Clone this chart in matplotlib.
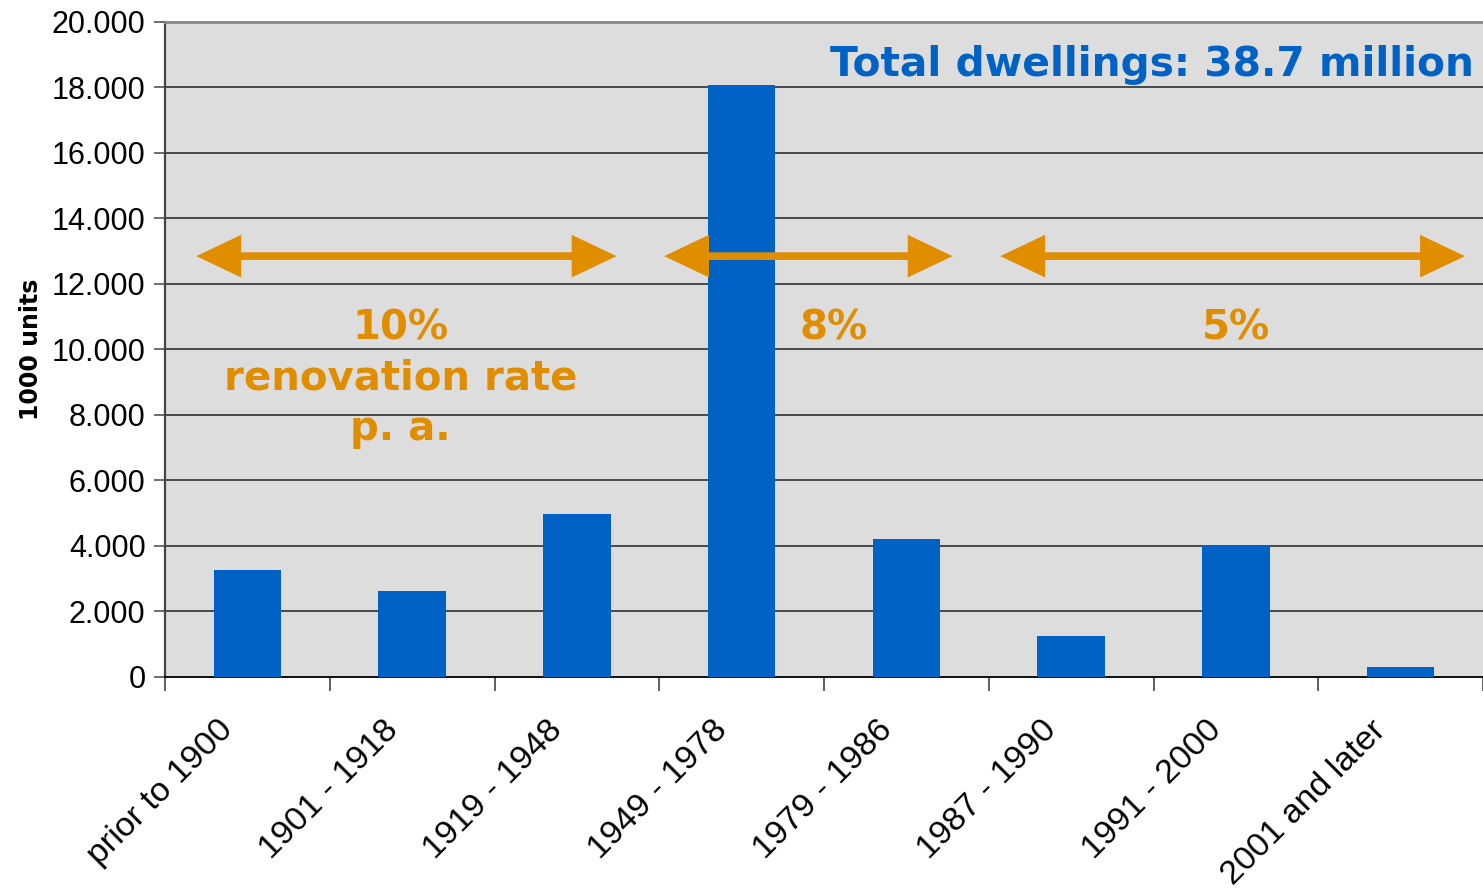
import matplotlib
matplotlib.use("Agg")
import matplotlib.pyplot as plt
import matplotlib.transforms as mtransforms
import numpy as np

# dwellings by construction period, in 1000 units
periods = ["prior to 1900", "1901 - 1918", "1919 - 1948", "1949 - 1978",
           "1979 - 1986", "1987 - 1990", "1991 - 2000", "2001 and later"]
dwellings = [3270, 2630, 4980, 18080, 4210, 1250, 4030, 310]

# renovation-rate bands: (start, end) in category units, label
band_start = [-0.31, 2.53, 4.57]
band_end = [2.24, 4.28, 7.39]
band_rate = ["10%", "8%", "5%"]
band_label_x = [0.93, 3.56, 6.00]
band_y = 12850

blue = "#0062C4"
orange = "#E08E00"

fig = plt.figure(figsize=(14.83, 8.93), dpi=100)
ax = fig.add_axes([0.1113, 0.2419, 0.8887, 0.7335])
ax.set_facecolor("#DDDDDD")

x = np.arange(len(periods))
ax.bar(x, dwellings, width=0.41, color=blue, zorder=3)

ax.set_xlim(-0.5, len(periods) - 0.5)
ax.set_ylim(0, 20000)
yt = np.arange(0, 20001, 2000)
ax.set_yticks(yt)
ax.set_yticklabels([f"{v:,}".replace(",", ".") for v in yt],
                   fontsize=22, family="Liberation Sans")
ax.yaxis.grid(True, color="#222222", lw=1.1, zorder=1)
ax.set_axisbelow(True)
ax.tick_params(axis="y", length=8, width=1.2, color="#555555", pad=6)

ax.set_xticks(x)
ax.set_xticklabels(periods, rotation=45, ha="right", va="top",
                   rotation_mode="anchor", fontsize=24.5, family="Liberation Sans")
ax.tick_params(axis="x", which="major", length=0, pad=27)
ax.set_xticks(np.arange(-0.5, len(periods)), minor=True)
ax.tick_params(axis="x", which="minor", length=10, width=1.2, color="#444444")
shift = mtransforms.ScaledTranslation(-30 / 100, 0, fig.dpi_scale_trans)
for lab in ax.get_xticklabels():
    lab.set_transform(lab.get_transform() + shift)

ax.spines["right"].set_visible(False)
ax.spines["top"].set_color("#888888")
ax.spines["top"].set_linewidth(2)
ax.spines["left"].set_color("#444444")
ax.spines["left"].set_linewidth(1.6)
ax.spines["bottom"].set_color("#111111")
ax.spines["bottom"].set_linewidth(1.4)

ax.set_ylabel("1000 units", fontsize=17, fontweight="bold", labelpad=6,
              family="DejaVu Sans")

for s, e, r, lx in zip(band_start, band_end, band_rate, band_label_x):
    ax.annotate("", xy=(e, band_y), xytext=(s, band_y),
                arrowprops=dict(arrowstyle="<|-|>,head_length=1.05,head_width=0.5",
                                mutation_scale=22, lw=5.5, color=orange,
                                joinstyle="miter", capstyle="butt",
                                shrinkA=0, shrinkB=0),
                zorder=4)
    ax.text(lx, 10650, r, ha="center", va="center",
            fontsize=29, fontweight="bold", color=orange, zorder=5)

ax.text(band_label_x[0], 9120, "renovation rate", ha="center",
        va="center", fontsize=29, fontweight="bold", color=orange, zorder=5)
ax.text(band_label_x[0], 7560, "p. a.", ha="center",
        va="center", fontsize=29, fontweight="bold", color=orange, zorder=5)

ax.text(0.993, 0.935, "Total dwellings: 38.7 million", transform=ax.transAxes,
        ha="right", va="center", fontsize=29.3, fontweight="bold", color=blue,
        family="DejaVu Sans", zorder=5)

fig.savefig("out.png", dpi=100, facecolor="white")
